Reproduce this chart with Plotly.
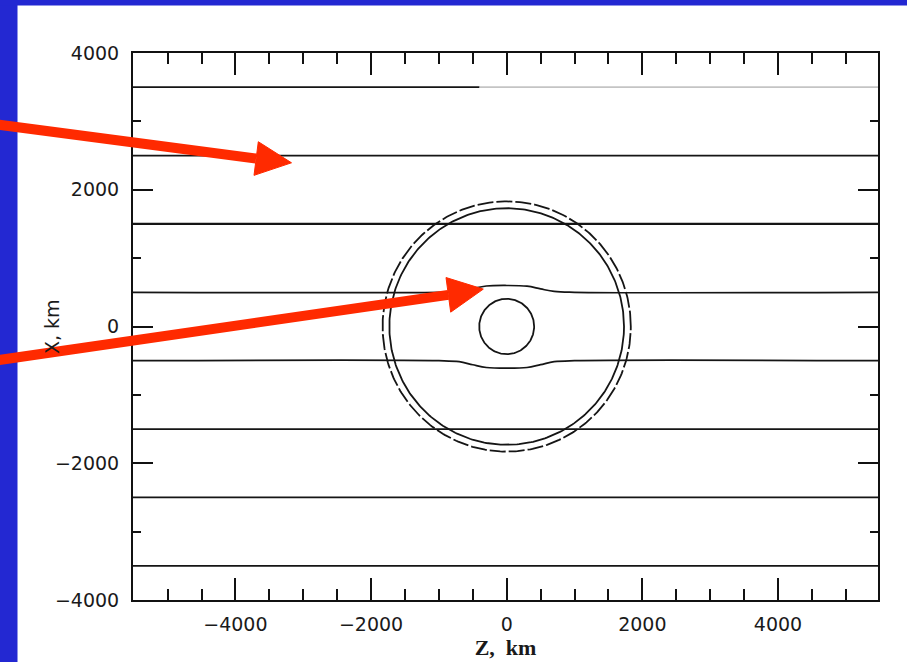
import numpy as np
import plotly.graph_objects as go

# ---------------- data ----------------
x_range = [-5510, 5475]
y_range = [-4000, 4000]

straight_lines_y = [3500, 2500, 1500, -1500, -2500, -3500]

deflect_x = [-5510, -1000, -700, -500, -300, 0, 300, 500, 700, 1000, 5475]
deflect_upper = [500, 500, 510, 555, 592, 600, 590, 550, 513, 500, 500]
deflect_lower = [-500, -500, -515, -560, -600, -610, -600, -558, -515, -500, -500]

circle_radii_solid = [405, 1730]
circle_radius_dashed = 1830

tick_vals = [-4000, -2000, 0, 2000, 4000]
tick_text = ["\u22124000", "\u22122000", "0", "2000", "4000"]

x_title = "Z,  km"
y_title = "X, km"

# ---------------- figure ----------------
W, H = 907, 662
ML, MR, MT, MB = 133, 29, 53, 56
PW, PH = W - ML - MR, H - MT - MB

def px(xp):
    return (xp - ML) / PW

def py(yp):
    return (H - MB - yp) / PH

fig = go.Figure()

line_col = "#151515"
for yv in straight_lines_y:
    if yv == 3500:
        # scanned line fades to grey on the right
        fig.add_trace(go.Scatter(x=[x_range[0], -400], y=[yv, yv], mode="lines",
                                 line=dict(color=line_col, width=1.8), hoverinfo="skip"))
        fig.add_trace(go.Scatter(x=[-400, x_range[1]], y=[yv, yv], mode="lines",
                                 line=dict(color="#c4c4c4", width=1.8), hoverinfo="skip"))
    else:
        fig.add_trace(go.Scatter(x=x_range, y=[yv, yv], mode="lines",
                                 line=dict(color=line_col, width=2.2 if yv == 1500 else 1.7),
                                 hoverinfo="skip"))

for ys in (deflect_upper, deflect_lower):
    fig.add_trace(go.Scatter(x=deflect_x, y=ys, mode="lines",
                             line=dict(color=line_col, width=1.7, shape="spline", smoothing=1.0),
                             hoverinfo="skip"))

theta = np.linspace(0, 2 * np.pi, 361)
for r in circle_radii_solid:
    fig.add_trace(go.Scatter(x=r * np.cos(theta), y=r * np.sin(theta), mode="lines",
                             line=dict(color=line_col, width=1.8), hoverinfo="skip"))
fig.add_trace(go.Scatter(x=circle_radius_dashed * np.cos(theta),
                         y=circle_radius_dashed * np.sin(theta), mode="lines",
                         line=dict(color=line_col, width=1.8, dash="16px,3px"),
                         hoverinfo="skip"))

# background: blue frame strips on the left and top of a white page
blue = "#2328d2"
shapes = [
    dict(type="rect", xref="paper", yref="paper",
         x0=px(-20), x1=px(17.5), y0=py(H + 20), y1=py(-20),
         fillcolor=blue, line=dict(width=0), layer="below"),
    dict(type="rect", xref="paper", yref="paper",
         x0=px(-20), x1=px(W + 20), y0=py(5), y1=py(-20),
         fillcolor=blue, line=dict(width=0), layer="below"),
]

# red arrows (annotation overlay, pixel geometry)
red = "#ff2a00"
arrows = [
    dict(start=(-5, 125), base=(256, 159.7), tip=(291.5, 164),
         b1=(258.3, 142.7), b2=(254, 176.7)),
    dict(start=(-5, 364), base=(448.3, 297.5), tip=(483.3, 291.7),
         b1=(446, 280), b2=(450.7, 315)),
]
for a in arrows:
    shapes.append(dict(type="line", xref="paper", yref="paper",
                       x0=px(a["start"][0]), y0=py(a["start"][1]),
                       x1=px(a["base"][0]), y1=py(a["base"][1]),
                       line=dict(color=red, width=10), layer="above"))
    path = "M {} {} L {} {} L {} {} Z".format(
        px(a["tip"][0]), py(a["tip"][1]),
        px(a["b1"][0]), py(a["b1"][1]),
        px(a["b2"][0]), py(a["b2"][1]))
    shapes.append(dict(type="path", xref="paper", yref="paper", path=path,
                       fillcolor=red, line=dict(color=red, width=1), layer="above"))

tickfont = dict(family="DejaVu Sans", size=19, color="#1a1a1a")

annotations = [
    dict(text=y_title, xref="paper", yref="paper", x=px(52), y=py(330),
         xanchor="center", yanchor="middle", textangle=-90, showarrow=False,
         font=dict(family="DejaVu Sans", size=19, color="#1a1a1a")),
]

fig.update_layout(
    width=W, height=H,
    margin=dict(l=ML, r=MR, t=MT, b=MB, pad=0),
    paper_bgcolor="white",
    plot_bgcolor="white",
    showlegend=False,
    shapes=shapes,
    annotations=annotations,
    xaxis=dict(
        range=x_range, showgrid=False, zeroline=False,
        showline=True, linecolor="#111", linewidth=2, mirror="ticks",
        tickmode="array", tickvals=tick_vals, ticktext=tick_text,
        ticks="inside", ticklen=22, tickwidth=2, tickcolor="#111",
        minor=dict(dtick=500, tick0=0, ticks="inside", ticklen=11, tickwidth=2,
                   tickcolor="#111", showgrid=False),
        tickfont=tickfont, ticklabelstandoff=6,
        title=dict(text="<b>" + x_title + "</b>", standoff=0,
                   font=dict(family="Liberation Serif", size=22, color="#1a1a1a")),
    ),
    yaxis=dict(
        range=y_range, showgrid=False, zeroline=False,
        showline=True, linecolor="#111", linewidth=2, mirror="ticks",
        tickmode="array", tickvals=tick_vals, ticktext=tick_text,
        ticks="inside", ticklen=20, tickwidth=2, tickcolor="#111",
        minor=dict(dtick=1000, tick0=0, ticks="inside", ticklen=8, tickwidth=2,
                   tickcolor="#111", showgrid=False),
        tickfont=tickfont, ticklabelstandoff=8,
    ),
)

fig.write_html("out.html", config={"displayModeBar": False})

# remove the default page margin so the figure fills the window exactly
with open("out.html", "r", encoding="utf-8") as f:
    html = f.read()
html = html.replace("<head>", "<head><style>html,body{margin:0;padding:0;overflow:hidden;}</style>", 1)
with open("out.html", "w", encoding="utf-8") as f:
    f.write(html)
